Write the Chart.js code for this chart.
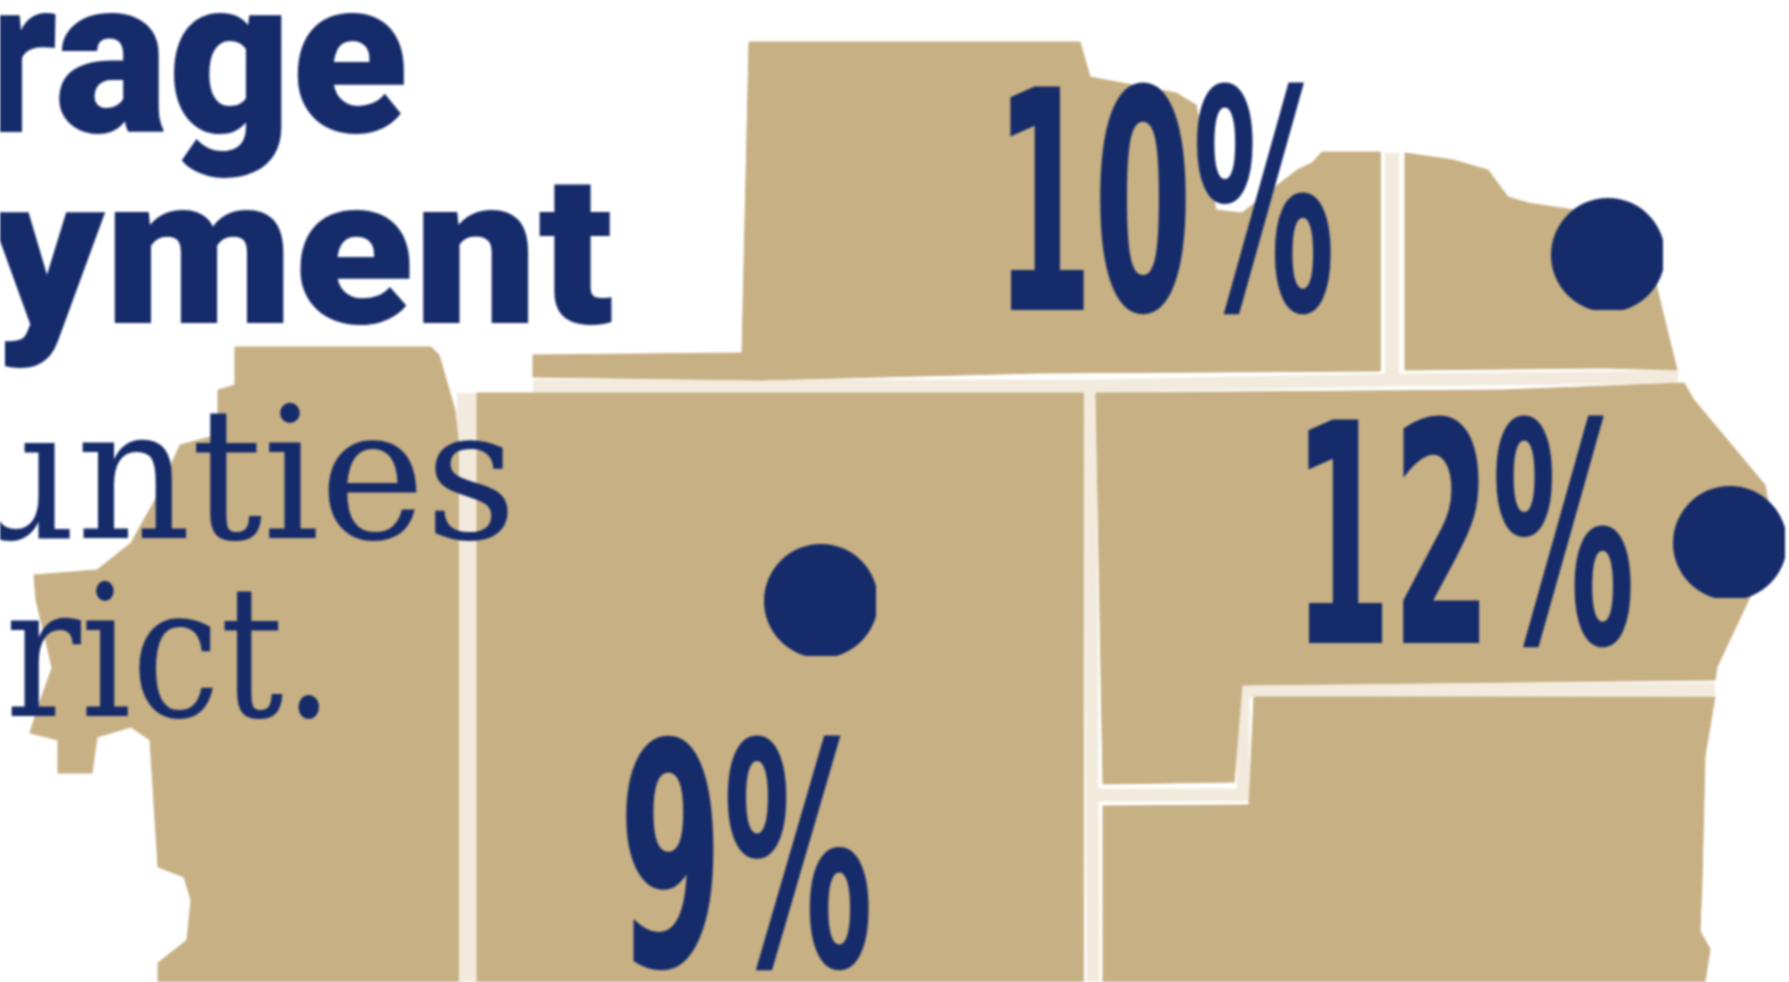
<!DOCTYPE html>
<html>
<head>
<meta charset="utf-8">
<title>Average unemployment by county</title>
<script src="https://cdn.jsdelivr.net/npm/chart.js@4"></script>
<style>
  html, body { margin: 0; padding: 0; background: #fff; overflow: hidden; }
  #wrap { width: 1789px; height: 982px; }
  canvas { filter: blur(0.9px); }
</style>
</head>
<body>
<div id="wrap"><canvas id="mapChart"></canvas></div>
<script>
// county outlines (map units)
const countyWest = [[235,347],[431,347],[439,355],[455,410],[458,440],[458,982],[158,982],[158,963],[187,940],[191,900],[184,877],[158,867],[150,740],[131,727],[97,737],[92,773],[58,773],[58,740],[30,733],[38,707],[52,668],[48,650],[36,600],[34,575],[97,570],[131,543],[155,500],[180,445],[218,435],[218,390],[235,385]];
const countyCentral = [[477,393],[1083,393],[1083,982],[477,982]];
const countyNorth = [[749,42],[1080,42],[1090,77],[1176,93],[1196,105],[1216,210],[1242,213],[1297,170],[1312,163],[1322,152],[1380,152],[1380,371],[1040,373],[760,380],[533,377],[533,355],[742,353]];
const countyNorthEast = [[1405,153],[1453,160],[1488,170],[1508,197],[1528,203],[1554,207],[1610,215],[1655,280],[1664,317],[1677,370],[1604,368],[1405,370]];
const countyEast = [[1096,393],[1503,390],[1684,383],[1694,400],[1765,485],[1775,540],[1750,597],[1717,667],[1715,680],[1242,685],[1234,782],[1103,784]];
const countySouthEast = [[1254,697],[1715,697],[1705,756],[1702,882],[1700,931],[1710,949],[1705,982],[1103,982],[1103,806],[1249,805]];

// pale lines left between the counties
const gapWestCentral = [[467,393],[467,982]];
const gapAcross = [[533,386],[1090,386],[1392,380],[1678,377]];
const gapCentralEast = [[1090,386],[1093,982]];
const gapNorth = [[1392,153],[1392,380]];
const gapEastSouth = [[1096,795],[1243,795],[1243,691],[1715,689]];

// the chart's values
const percentValues = [10, 12, 9];
const dotX = [1608, 1730, 821];
const dotY = [255, 543, 601];

// cropped headline and body text
const headlineLines = ['rage', 'yment'];
const bodyLines = ['unties', 'rict.'];

// text boxes: left, right, top, bottom of the inked glyphs
const percentBoxes = [[1010,1332,80,313],[1308,1632,413,646],[626,870,733,969]];
const headlineBoxes = [[-15,405,13,178],[-12,613,183,367]];
const bodyBoxes = [[-35,509,402,540],[10,320,580,718]];

const tan = '#c7b083';
const navy = '#162b6a';
const cream = '#f2ebdd';

const toPoints = (pairs) => pairs.map(([x, y]) => ({ x, y }));

function countyDataset(pairs) {
  return {
    data: toPoints(pairs.concat([pairs[0]])),
    showLine: true,
    fill: 'shape',
    backgroundColor: tan,
    borderColor: tan,
    borderWidth: 1,
    pointRadius: 0,
    tension: 0,
    order: 2
  };
}

function gapDataset(pairs, width) {
  return {
    data: toPoints(pairs),
    showLine: true,
    fill: false,
    borderColor: cream,
    borderWidth: width,
    pointRadius: 0,
    tension: 0,
    order: 3
  };
}

// the dots in the source are cut flat on the right and at the bottom
function croppedDot(radius, keep) {
  const c = document.createElement('canvas');
  c.width = c.height = radius * 2;
  const g = c.getContext('2d');
  g.beginPath();
  g.rect(0, 0, keep, keep);
  g.clip();
  g.fillStyle = navy;
  g.beginPath();
  g.arc(radius, radius, radius, 0, Math.PI * 2);
  g.fill();
  return c;
}

function drawFitted(ctx, scales, text, box, font) {
  const [left, right, top, bottom] = box;
  const x0 = scales.x.getPixelForValue(left);
  const x1 = scales.x.getPixelForValue(right);
  const y0 = scales.y.getPixelForValue(top);
  const y1 = scales.y.getPixelForValue(bottom);
  ctx.save();
  ctx.font = font;
  ctx.textAlign = 'left';
  ctx.textBaseline = 'alphabetic';
  const m = ctx.measureText(text);
  const sx = (x1 - x0) / (m.actualBoundingBoxLeft + m.actualBoundingBoxRight);
  const sy = (y1 - y0) / (m.actualBoundingBoxAscent + m.actualBoundingBoxDescent);
  ctx.translate(x0 + m.actualBoundingBoxLeft * sx, y0 + m.actualBoundingBoxAscent * sy);
  ctx.scale(sx, sy);
  ctx.fillStyle = navy;
  ctx.fillText(text, 0, 0);
  ctx.restore();
}

const mapText = {
  id: 'mapText',
  afterDatasetsDraw(chart) {
    const { ctx, scales } = chart;
    percentValues.forEach((v, i) => drawFitted(ctx, scales, v + '%', percentBoxes[i], '700 100px "DejaVu Sans"'));
    headlineLines.forEach((t, i) => drawFitted(ctx, scales, t, headlineBoxes[i], '900 100px Roboto'));
    bodyLines.forEach((t, i) => drawFitted(ctx, scales, t, bodyBoxes[i], '400 100px "DejaVu Serif"'));
  }
};

new Chart(document.getElementById('mapChart'), {
  type: 'scatter',
  data: {
    datasets: [
      {
        data: dotX.map((x, i) => ({ x, y: dotY[i] })),
        pointStyle: croppedDot(57, 112),
        pointRadius: 57,
        order: 1
      },
      countyDataset(countyWest),
      countyDataset(countyCentral),
      countyDataset(countyNorth),
      countyDataset(countyNorthEast),
      countyDataset(countyEast),
      countyDataset(countySouthEast),
      gapDataset(gapWestCentral, 20),
      gapDataset(gapAcross, 13),
      gapDataset(gapCentralEast, 13),
      gapDataset(gapNorth, 14),
      gapDataset(gapEastSouth, 13)
    ]
  },
  options: {
    responsive: true,
    maintainAspectRatio: false,
    animation: false,
    layout: { padding: 0, autoPadding: false },
    plugins: {
      legend: { display: false },
      tooltip: { enabled: false }
    },
    scales: {
      x: { type: 'linear', min: 0, max: 1789, display: false },
      y: { type: 'linear', min: 0, max: 982, reverse: true, display: false }
    }
  },
  plugins: [mapText]
});
</script>
</body>
</html>
